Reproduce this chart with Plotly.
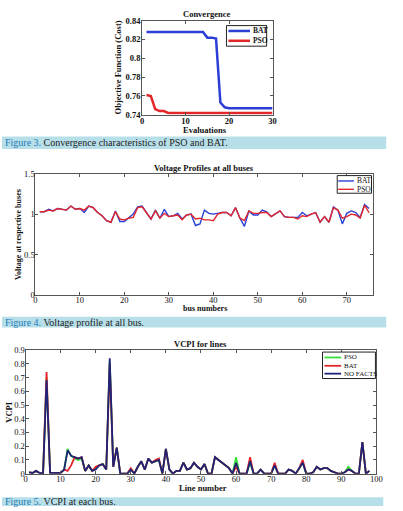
import plotly.graph_objects as go

W, H = 403, 511
SERIF = "'Liberation Serif', 'Times New Roman', serif"

# ---------- Data ----------
eval_x = list(range(1, 31))
conv_bat = [0.828, 0.828, 0.828, 0.828, 0.828, 0.828, 0.828, 0.828, 0.828, 0.828,
            0.828, 0.828, 0.828, 0.828, 0.822, 0.822, 0.821, 0.753, 0.748, 0.747,
            0.747, 0.747, 0.747, 0.747, 0.747, 0.747, 0.747, 0.747, 0.747, 0.747]
conv_pso = [0.761, 0.760, 0.746, 0.744, 0.744, 0.742, 0.742, 0.742, 0.742, 0.742,
            0.742, 0.742, 0.742, 0.742, 0.742, 0.742, 0.742, 0.742, 0.742, 0.742,
            0.742, 0.742, 0.742, 0.742, 0.742, 0.742, 0.742, 0.742, 0.742, 0.742]

bus_x = list(range(1, 76))
volt_bat = [1.03, 1.03, 1.06, 1.04, 1.07, 1.06, 1.05, 1.10, 1.06, 1.07,
            1.02, 1.10, 1.08, 1.02, 0.98, 0.92, 0.90, 1.04, 0.91, 0.91,
            0.96, 1.00, 1.09, 1.10, 1.02, 0.94, 1.05, 0.95, 1.06, 0.97,
            0.98, 1.01, 0.94, 0.99, 1.00, 0.86, 0.88, 1.05, 1.01, 1.00,
            1.01, 1.02, 1.02, 0.98, 1.08, 0.95, 0.85, 1.04, 0.99, 0.99,
            1.05, 1.03, 0.97, 1.01, 1.04, 0.97, 0.96, 0.96, 0.96, 1.02,
            0.98, 1.00, 1.02, 0.90, 0.97, 0.90, 1.09, 1.05, 0.88, 1.01,
            1.04, 1.02, 0.96, 1.12, 1.07]
volt_pso = [1.03, 1.03, 1.05, 1.04, 1.07, 1.06, 1.05, 1.10, 1.06, 1.07,
            1.05, 1.10, 1.08, 1.02, 0.98, 0.92, 0.90, 1.03, 0.94, 0.93,
            0.95, 0.96, 1.08, 1.09, 1.02, 0.94, 1.04, 0.95, 1.01, 0.97,
            0.98, 0.99, 0.93, 0.99, 1.00, 0.94, 0.95, 0.93, 0.93, 0.92,
            1.00, 1.02, 1.02, 0.98, 1.08, 0.95, 0.92, 1.04, 1.01, 1.01,
            1.02, 1.02, 0.97, 1.01, 1.04, 0.97, 0.96, 0.96, 0.94, 0.98,
            0.97, 1.00, 1.02, 0.90, 0.97, 0.90, 1.08, 1.05, 0.95, 0.97,
            1.00, 0.99, 0.95, 1.11, 1.02]

line_x = list(range(1, 99))
vcpi_nofacts = [0.01, 0.005, 0.02, 0.005, 0.0, 0.68, 0.005, 0.005, 0.0, 0.005,
                0.03, 0.17, 0.13, 0.12, 0.11, 0.12, 0.02, 0.06, 0.02, 0.03,
                0.06, 0.07, 0.03, 0.84, 0.05, 0.19, 0.0, 0.0, 0.0, 0.03,
                0.0, 0.05, 0.09, 0.03, 0.11, 0.08, 0.09, 0.10, 0.0, 0.18,
                0.03, 0.0, 0.02, 0.02, 0.08, 0.03, 0.04, 0.08, 0.05, 0.03,
                0.07, 0.0, 0.0, 0.12, 0.10, 0.08, 0.06, 0.04, 0.0, 0.08,
                0.0, 0.0, 0.0, 0.09, 0.0, 0.0, 0.03, 0.0, 0.0, 0.0,
                0.06, 0.0, 0.0, 0.0, 0.03, 0.02, 0.0, 0.04, 0.08, 0.0,
                0.0, 0.01, 0.05, 0.03, 0.04, 0.04, 0.02, 0.01, 0.0, 0.0,
                0.01, 0.03, 0.02, 0.0, 0.0, 0.23, 0.0, 0.02]
bat_diff = {6: 0.74, 12: 0.02, 13: 0.06, 14: 0.12, 15: 0.11, 16: 0.12, 20: 0.05,
            24: 0.80, 30: 0.04, 37: 0.10, 38: 0.11, 60: 0.05, 64: 0.12, 71: 0.08,
            79: 0.10, 92: 0.03}
pso_diff = {6: 0.70, 12: 0.18, 13: 0.13, 14: 0.11, 15: 0.10, 16: 0.11, 20: 0.04,
            24: 0.82, 60: 0.12, 64: 0.08, 71: 0.06, 79: 0.08, 92: 0.05}
vcpi_bat = [bat_diff.get(i, v) for i, v in zip(line_x, vcpi_nofacts)]
vcpi_pso = [pso_diff.get(i, v) for i, v in zip(line_x, vcpi_nofacts)]

BLUE = "#2b3fd6"
RED = "#e3262a"
GREEN = "#35e035"
NAVY = "#1e2378"
FRAME = "#555555"


def px_x(p):
    return p / W


def px_y(p):
    return 1 - p / H


fig = go.Figure()

# Convergence
fig.add_trace(go.Scatter(x=eval_x, y=conv_bat, mode="lines", name="BAT",
                         line=dict(color=BLUE, width=2.5), xaxis="x", yaxis="y"))
fig.add_trace(go.Scatter(x=eval_x, y=conv_pso, mode="lines", name="PSO",
                         line=dict(color=RED, width=2.5), xaxis="x", yaxis="y"))
# Voltage
fig.add_trace(go.Scatter(x=bus_x, y=volt_bat, mode="lines", name="BAT",
                         line=dict(color=BLUE, width=1.4), xaxis="x2", yaxis="y2"))
fig.add_trace(go.Scatter(x=bus_x, y=volt_pso, mode="lines", name="PSO",
                         line=dict(color=RED, width=1.4), xaxis="x2", yaxis="y2"))
# VCPI
fig.add_trace(go.Scatter(x=line_x, y=vcpi_pso, mode="lines", name="PSO",
                         line=dict(color=GREEN, width=1.8), xaxis="x3", yaxis="y3"))
fig.add_trace(go.Scatter(x=line_x, y=vcpi_bat, mode="lines", name="BAT",
                         line=dict(color=RED, width=1.8), xaxis="x3", yaxis="y3"))
fig.add_trace(go.Scatter(x=line_x, y=vcpi_nofacts, mode="lines", name="NO FACTS",
                         line=dict(color=NAVY, width=1.8), xaxis="x3", yaxis="y3"))

tickfont = dict(family=SERIF, size=8.5, color="#111")
boldtick = dict(family=SERIF, size=8.5, color="#111", weight="bold")

axis_common = dict(showgrid=False, zeroline=False, showline=True, linecolor=FRAME,
                   linewidth=1, mirror="ticks", ticks="inside", ticklen=3,
                   tickcolor=FRAME, fixedrange=True)

fig.update_layout(
    width=W, height=H, margin=dict(l=0, r=0, t=0, b=0),
    paper_bgcolor="white", plot_bgcolor="white", showlegend=False,
    xaxis=dict(domain=[px_x(143), px_x(276)], range=[0, 30], tickvals=[0, 10, 20, 30],
               anchor="y", tickfont=boldtick, ticklabelstandoff=-2, **axis_common),
    yaxis=dict(domain=[px_y(112), px_y(16)], range=[0.74, 0.84],
               tickvals=[0.74, 0.76, 0.78, 0.8, 0.82, 0.84], anchor="x",
               tickfont=boldtick, ticklabelstandoff=-1, **axis_common),
    xaxis2=dict(domain=[px_x(34), px_x(379)], range=[0, 76], tickvals=list(range(0, 71, 10)),
                anchor="y2", tickfont=tickfont, ticklabelstandoff=-3, **axis_common),
    yaxis2=dict(domain=[px_y(296), px_y(172)], range=[0, 1.5], tickvals=[0, 0.5, 1, 1.5],
                anchor="x2", tickfont=tickfont, ticklabelstandoff=-2, **axis_common),
    xaxis3=dict(domain=[px_x(24), px_x(382)], range=[0, 100], tickvals=list(range(0, 101, 10)),
                anchor="y3", tickfont=tickfont, ticklabelstandoff=-3, **axis_common),
    yaxis3=dict(domain=[px_y(478), px_y(352)], range=[0, 0.9],
                tickvals=[0, 0.1, 0.2, 0.3, 0.4, 0.5, 0.6, 0.7, 0.8, 0.9],
                anchor="x3", tickfont=tickfont, ticklabelstandoff=-2, **axis_common),
)

annotations = []
shapes = []


def ann(text, x, y, size=9, angle=0, bold=False, xanchor="center", yanchor="middle", color="#111"):
    annotations.append(dict(text=text, x=px_x(x), y=px_y(y), xref="paper", yref="paper",
                            showarrow=False, textangle=angle, xanchor=xanchor, yanchor=yanchor,
                            font=dict(family=SERIF, size=size, color=color,
                                      weight="bold" if bold else "normal")))


def legend_box(x0, y0, x1, y1, items, lx0, lx1, tx, size, lw, bold=False):
    shapes.append(dict(type="rect", xref="paper", yref="paper", x0=px_x(x0), x1=px_x(x1),
                       y0=px_y(y1), y1=px_y(y0), fillcolor="white",
                       line=dict(color="#222", width=1)))
    for name, color, yy in items:
        shapes.append(dict(type="line", xref="paper", yref="paper", x0=px_x(lx0), x1=px_x(lx1),
                           y0=px_y(yy), y1=px_y(yy), line=dict(color=color, width=lw)))
        ann(name, tx, yy, size=size, bold=bold, xanchor="left")


# titles
ann("Convergence", 209, 9, size=8.5, bold=True)
ann("Voltage Profiles at all buses", 206, 166, size=8.5, bold=True)
ann("VCPI for lines", 203, 346, size=8.5, bold=True)
# axis titles
ann("Evaluations", 207, 127.5, size=8.5, bold=True)
ann("Objective Function (Cost)", 118, 64, size=8.5, bold=True, angle=-90)
ann("bus numbers", 207, 310, size=8, bold=True)
ann("Voltage at respective buses", 17, 234, size=8, bold=True, angle=-90)
ann("Line number", 205, 492.5, size=8.5, bold=True)
ann("VCPI", 7, 415, size=8.5, bold=True, angle=-90)

# legends
legend_box(229, 21, 270, 42, [("BAT", BLUE, 26.5), ("PSO", RED, 36.5)],
           231, 253, 254.5, 7.5, 2.5, bold=True)
legend_box(342, 174, 377, 192, [("BAT", BLUE, 179.5), ("PSO", RED, 188)],
           343, 359, 360, 7.5, 1.4)
legend_box(327, 354, 381, 381, [("PSO", GREEN, 359.5), ("BAT", RED, 368),
                                ("NO FACTS", NAVY, 376)],
           329, 346, 347, 7, 1.8)

# captions
CAP_BG = "#b7dfe9"
CAP_BLUE = "#1f7bb6"
for (y0, y1, x1) in [(134, 147, 392), (318, 329, 392), (502, 511, 389)]:
    shapes.append(dict(type="rect", xref="paper", yref="paper", x0=0, x1=px_x(x1),
                       y0=px_y(y1), y1=px_y(y0), fillcolor=CAP_BG, line=dict(width=0),
                       layer="below"))
caps = [("Figure 3.", " Convergence characteristics of PSO and BAT.", 140.5),
        ("Figure 4.", " Voltage profile at all bus.", 323.5),
        ("Figure 5.", " VCPI at each bus.", 506.5)]
for a, b, yc in caps:
    ann(f"<span style='color:{CAP_BLUE}'>{a}</span>{b}", 1, yc, size=10,
        xanchor="left", color="#222")

fig.update_layout(annotations=annotations, shapes=shapes)

fig.write_html("out.html")
